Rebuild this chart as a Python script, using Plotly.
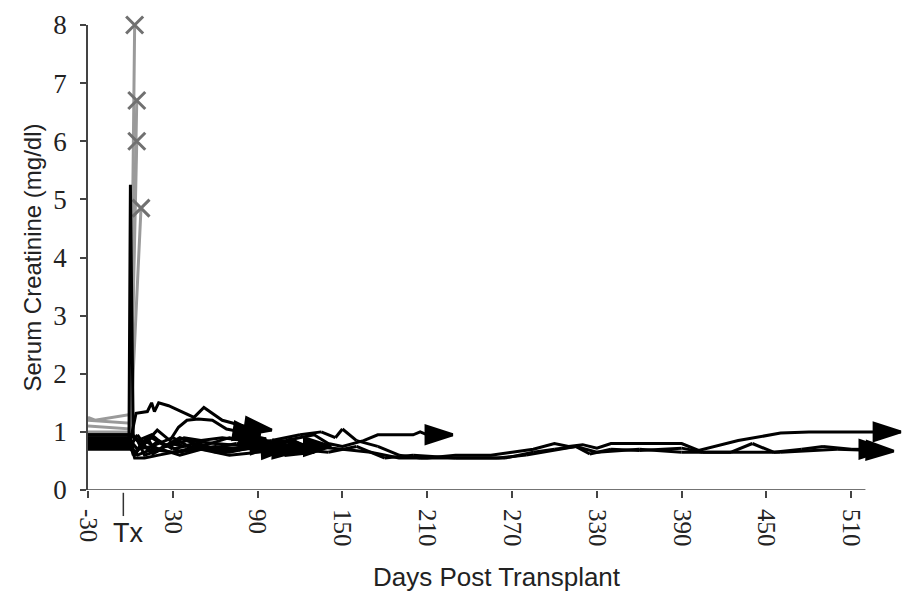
import plotly.graph_objects as go

# ---- data: days post transplant and serum creatinine (mg/dl) per patient ----
p1_days = [-30, 0, 4, 12, 15, 17, 20, 27, 45, 52, 65, 80, 100]
p1_vals = [0.85, 0.85, 1.32, 1.35, 1.5, 1.35, 1.5, 1.45, 1.25, 1.42, 1.2, 1.1, 1.03]

p2_days = [-30, 0, 3, 10, 19, 28, 34, 40, 48, 58, 68, 78, 92]
p2_vals = [0.95, 0.95, 0.9, 0.8, 1.03, 0.85, 1.08, 1.2, 1.22, 1.2, 1.05, 1.0, 0.95]

p3_days = [-30, -1, 0, 2, 8, 15, 25, 40, 60, 85, 95, 112]
p3_vals = [0.9, 0.9, 5.25, 0.95, 0.75, 0.9, 0.75, 0.85, 0.8, 0.75, 0.7, 0.72]

p4_days = [-30, 0, 3, 10, 20, 30, 50, 70, 90, 110, 120, 130]
p4_vals = [0.8, 0.8, 0.55, 0.55, 0.6, 0.65, 0.7, 0.65, 0.75, 0.75, 0.7, 0.65]

p5_days = [-30, 0, 5, 12, 20, 30, 45, 60, 75, 90, 100, 120, 135, 145, 150, 160, 175, 190, 205,
           230, 260, 280, 300, 315, 330, 360, 390, 430, 460, 500, 540]
p5_vals = [0.75, 0.75, 0.95, 0.7, 0.85, 0.7, 0.8, 0.65, 0.7, 0.8, 0.85, 0.95, 1.0, 0.9, 1.05, 0.85,
           0.75, 0.6, 0.55, 0.55, 0.55, 0.6, 0.68, 0.75, 0.65, 0.7, 0.65, 0.65, 0.65, 0.7, 0.67]

p6_days = [-30, 0, 5, 15, 30, 50, 70, 90, 110, 130, 150, 170, 190, 210, 230, 255, 270, 285, 300,
           310, 320, 330, 340, 390, 402, 430, 460, 480, 545]
p6_vals = [0.7, 0.7, 0.6, 0.7, 0.65, 0.75, 0.7, 0.75, 0.7, 0.75, 0.7, 0.65, 0.55, 0.55, 0.6, 0.6,
           0.65, 0.7, 0.8, 0.75, 0.78, 0.72, 0.8, 0.8, 0.68, 0.85, 0.98, 1.0, 1.0]

p7_days = [-30, 0, 4, 12, 18, 28, 40, 55, 75, 95, 115, 140, 160, 180, 200, 230, 265, 285, 300,
           315, 325, 340, 360, 390, 405, 425, 440, 455, 475, 490, 510, 535]
p7_vals = [0.72, 0.72, 0.65, 0.9, 0.65, 0.8, 0.75, 0.7, 0.8, 0.75, 0.7, 0.65, 0.75, 0.55, 0.6,
           0.55, 0.55, 0.65, 0.7, 0.75, 0.62, 0.7, 0.68, 0.72, 0.65, 0.65, 0.8, 0.65, 0.7, 0.75,
           0.7, 0.7]

p8_days = [-30, 0, 3, 10, 20, 35, 50, 70, 90, 110, 130, 140, 150, 165, 175, 200, 205, 210, 228]
p8_vals = [0.9, 0.9, 0.6, 0.85, 0.7, 0.9, 0.75, 0.9, 0.8, 0.85, 0.95, 0.8, 0.75, 0.85, 0.95,
           0.95, 1.0, 0.95, 0.95]

p9_days = [-30, 0, 5, 15, 25, 38, 50, 65, 80, 96]
p9_vals = [0.95, 0.95, 0.85, 0.95, 0.75, 0.9, 0.85, 0.9, 0.85, 0.88]

p10_days = [-30, 0, 4, 10, 22, 35, 50, 70, 90, 105, 120]
p10_vals = [0.78, 0.78, 0.9, 0.6, 0.7, 0.6, 0.7, 0.6, 0.65, 0.7, 0.68]

p11_days = [-30, 0, 5, 15, 30, 45, 60, 80, 100, 115, 125, 142]
p11_vals = [0.85, 0.85, 0.7, 0.75, 0.9, 0.7, 0.75, 0.7, 0.75, 0.85, 0.75, 0.75]

p12_days = [-30, 0, 2, 8, 16, 26, 36, 48, 60, 75, 90, 104]
p12_vals = [0.82, 0.82, 0.6, 0.8, 0.62, 0.78, 0.65, 0.8, 0.7, 0.72, 0.78, 0.8]

# graft-loss patients (grey, ending with an X)
g1_days = [-30, -25, 0, 3]
g1_vals = [1.25, 1.2, 1.3, 8.0]
g2_days = [-30, 0, 4.5]
g2_vals = [1.2, 1.15, 6.7]
g3_days = [-30, 0, 4.5]
g3_vals = [1.1, 1.05, 6.0]
g4_days = [-30, 0, 7.5]
g4_vals = [1.0, 1.0, 4.85]

x_tickvals = [-30, 30, 90, 150, 210, 270, 330, 390, 450, 510]
y_tickvals = [0, 1, 2, 3, 4, 5, 6, 7, 8]

black_series = [(p1_days, p1_vals), (p2_days, p2_vals), (p3_days, p3_vals), (p4_days, p4_vals),
                (p5_days, p5_vals), (p6_days, p6_vals), (p7_days, p7_vals), (p8_days, p8_vals),
                (p9_days, p9_vals), (p10_days, p10_vals), (p11_days, p11_vals),
                (p12_days, p12_vals)]
grey_series = [(g1_days, g1_vals), (g2_days, g2_vals), (g3_days, g3_vals), (g4_days, g4_vals)]

fig = go.Figure()

for d, v in grey_series:
    sizes = [0] * (len(d) - 1) + [17]
    fig.add_trace(go.Scatter(
        x=d, y=v, mode="lines+markers", cliponaxis=False,
        line=dict(color="#9a9a9a", width=3),
        marker=dict(symbol="x-thin", size=sizes, color="#707070", opacity=1,
                    line=dict(color="#707070", width=3)),
        showlegend=False, hoverinfo="skip"))

for d, v in black_series:
    sizes = [0] * (len(d) - 1) + [28]
    fig.add_trace(go.Scatter(
        x=d, y=v, mode="lines+markers", cliponaxis=False,
        line=dict(color="black", width=3),
        marker=dict(symbol="arrow", angleref="previous", size=sizes, color="black", opacity=1,
                    line=dict(width=3, color="black")),
        showlegend=False, hoverinfo="skip"))

# x axis baseline (stops after the last tick) and "Tx" marker
fig.add_shape(type="line", xref="x", yref="y", x0=-30, x1=520, y0=0, y1=0,
              line=dict(color="#444", width=1.5), layer="below")
fig.add_shape(type="line", xref="x", yref="paper", x0=-5, x1=-5, y0=-0.006, y1=-0.056,
              line=dict(color="#333", width=1.5))
fig.add_annotation(x=-1.5, xref="x", y=-0.092, yref="paper", yanchor="middle", text="Tx",
                   showarrow=False,
                   font=dict(family="Liberation Sans, Arial", size=27, color="#222"))

fig.update_layout(
    width=905, height=596,
    margin=dict(l=88, r=0, t=25, b=106),
    paper_bgcolor="white", plot_bgcolor="white",
    xaxis=dict(range=[-30, 548], tickvals=x_tickvals, ticktext=[str(t) for t in x_tickvals],
               tickangle=90, showgrid=False, zeroline=False, showline=False,
               ticks="outside", ticklen=7, tickwidth=1.5, tickcolor="#444",
               ticklabelstandoff=6,
               tickfont=dict(family="Liberation Serif, Times New Roman", size=25, color="#222"),
               title=dict(text="Days Post Transplant", standoff=22,
                          font=dict(family="Liberation Sans, Arial", size=26, color="#222"))),
    yaxis=dict(range=[0, 8], tickvals=y_tickvals, showgrid=False, zeroline=False,
               showline=True, linecolor="#444", linewidth=1.5,
               ticks="outside", ticklen=6, tickwidth=1.5, tickcolor="#444",
               ticklabelstandoff=8,
               tickfont=dict(family="Liberation Serif, Times New Roman", size=27, color="#222"),
               title=dict(text="Serum Creatinine (mg/dl)", standoff=5,
                          font=dict(family="Liberation Sans, Arial", size=24, color="#222"))),
)

fig.write_html("out.html")
